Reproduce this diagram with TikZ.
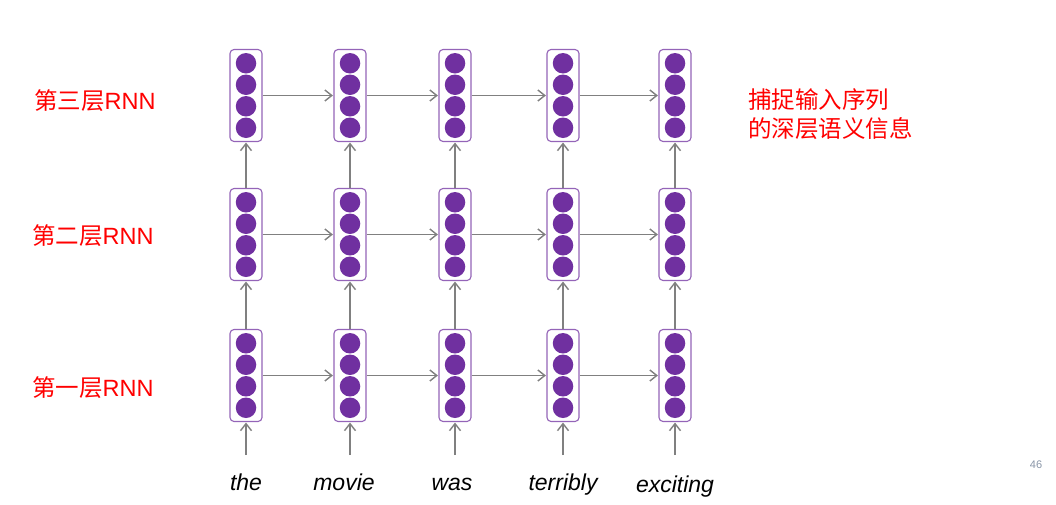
\documentclass[tikz,border=0pt]{standalone}
\usepackage{fontspec}
\setsansfont{Liberation Sans}
\newfontfamily\cjk{Noto Sans CJK SC}
\usepackage{xcolor}
\usetikzlibrary{arrows.meta}
\definecolor{cellpurple}{HTML}{7030A0}
\definecolor{arrowgray}{HTML}{808080}
\definecolor{labelred}{HTML}{FF0000}
\definecolor{pagegray}{HTML}{8A96A8}

\begin{document}
\begin{tikzpicture}[x=1pt,y=-1pt,
  cell/.style={draw=cellpurple!75, line width=1.1pt, rounded corners=4pt,
    minimum width=32pt, minimum height=92pt, inner sep=0pt},
  unit/.style={circle, fill=cellpurple, minimum size=20.5pt, inner sep=0pt},
  link/.style={draw=arrowgray, line width=1.8pt, shorten >=0.5pt,
    -{Straight Barb[length=7pt,width=11pt,line width=1.4pt]}},
  word/.style={font=\sffamily\itshape\fontsize{23}{23}\selectfont,
    anchor=base, inner sep=0pt},
  layer/.style={font=\cjk\fontsize{23.5}{23.5}\selectfont, text=labelred,
    anchor=base west, inner sep=0pt}]
%\draw[help lines] (0,0) grid (1056,504);
\fill[white] (0,0) rectangle (1056,504);
\useasboundingbox (0,0) rectangle (1056,504);

% rnn cells
\foreach \c/\x in {1/246,2/350,3/455,4/563,5/675}
  \foreach \r/\y in {1/375.5,2/234.5,3/95.5}{
    \node[cell] (b\r\c) at (\x,\y) {};
    \foreach \k/\d in {1/-32.25,2/-10.75,3/10.75,4/32.25}
      \node[unit] (u\r\c\k) at (\x,\y+\d) {};
  }

% recurrent links
\foreach \r in {1,2,3}
  \foreach \c/\n in {1/2,2/3,3/4,4/5}
    \draw[link] (b\r\c) -- (b\r\n);

% stacked links
\foreach \c in {1,...,5}{
  \draw[link] (b1\c) -- (b2\c);
  \draw[link] (b2\c) -- (b3\c);
}

% inputs
\node[word] (w1) at (246,490) {the};
\node[word] (w2) at (344,490) {movie};
\node[word] (w3) at (452,490) {was};
\node[word] (w4) at (563,490) {terribly};
\node[word] (w5) at (675,492) {exciting};
\foreach \c/\x in {1/246,2/350,3/455,4/563,5/675}{
  \coordinate (in\c) at (\x,455);
  \draw[link] (in\c) -- (b1\c);
}

% labels
\node[layer] (l3) at (34,109) {第三层{\sffamily RNN}};
\node[layer] (l2) at (32,244) {第二层{\sffamily RNN}};
\node[layer] (l1) at (32,396) {第一层{\sffamily RNN}};
\node[layer] (s1) at (748,108) {捕捉输入序列};
\node[layer] (s2) at (748,137) {的深层语义信息};

\node[font=\sffamily\fontsize{11}{11}\selectfont, text=pagegray] (page) at (1036,465) {46};
\end{tikzpicture}
\end{document}
